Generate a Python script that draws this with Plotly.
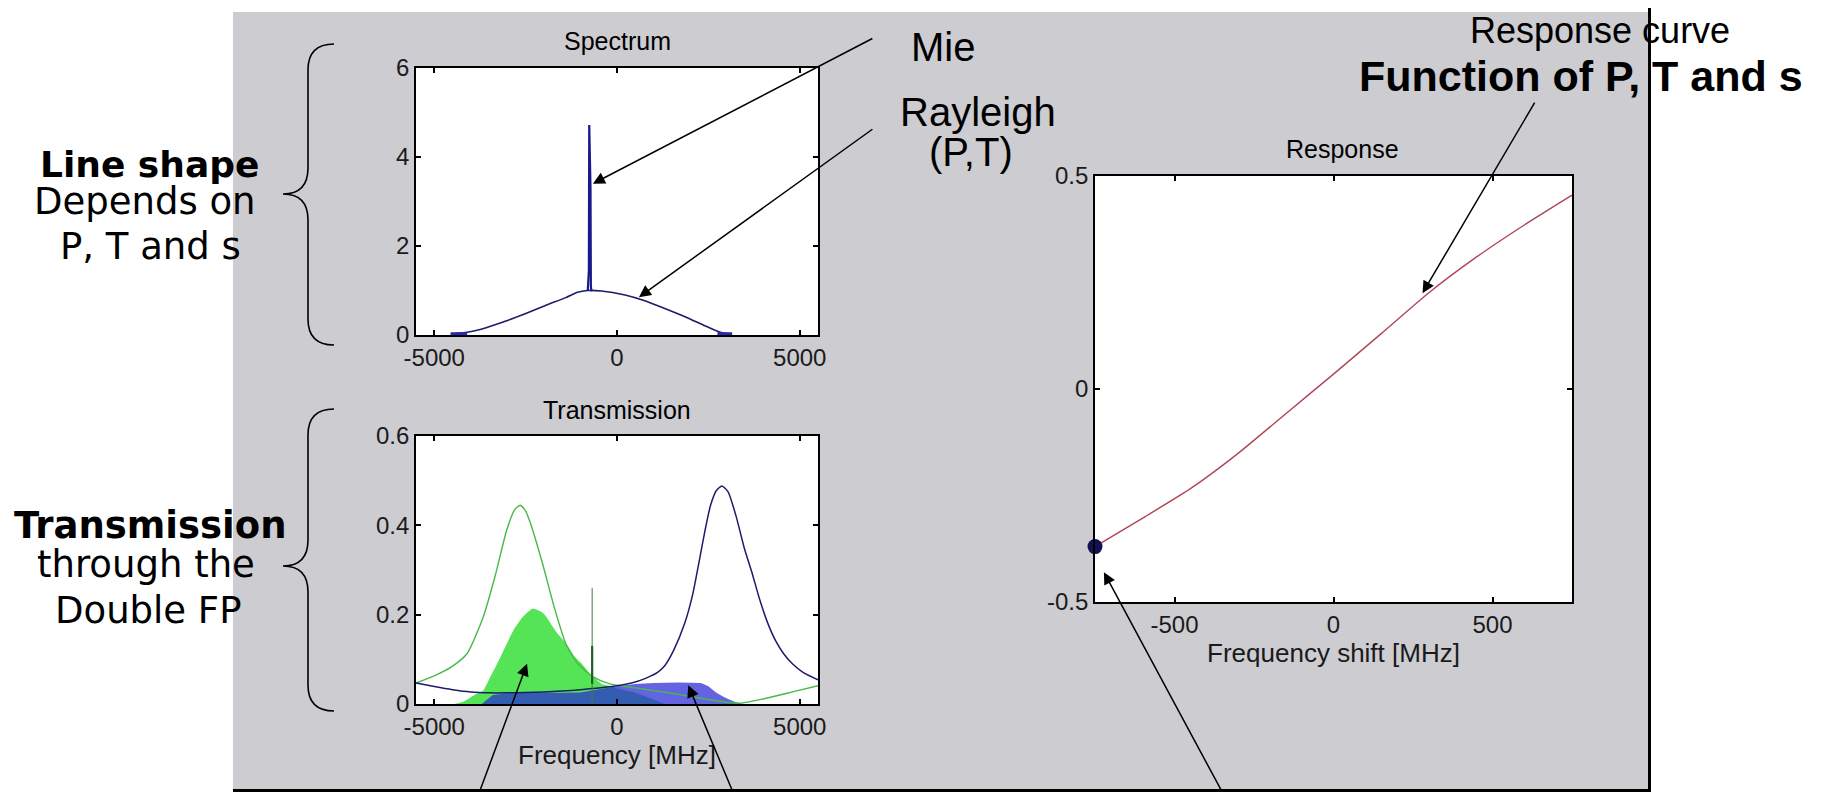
import plotly.graph_objects as go

W, H = 1823, 792
OFF = 8  # page body margin: figure is drawn 8px right/down inside the window

# ---------------- data ----------------
# Spectrum panel
ray_x = [-4550, -4100, -3560, -3020, -2480, -1940, -1400, -1080, -810, -430, 220, 760, 1290, 1830, 2370, 2700, 2910, 3150]
ray_y = [0.02, 0.06, 0.17, 0.32, 0.49, 0.67, 0.84, 0.96, 1.0, 0.99, 0.90, 0.77, 0.60, 0.42, 0.22, 0.10, 0.04, 0.02]
tailL_x = [-4550, -4100]
tailL_y = [0.02, 0.03]
tailR_x = [2750, 3150]
tailR_y = [0.03, 0.02]
mie_x = [-800, -780, -770, -760, -745, -735, -725, -715, -700]
mie_y = [0.99, 1.45, 1.45, 4.72, 3.85, 3.8, 3.3, 1.1, 0.98]

# Transmission panel
green_line_x = [-5500, -5000, -4530, -4100, -3660, -3340, -3015, -2800, -2650, -2500, -2370, -2040, -1720, -1400,
                -1070, -640, -200, 500, 1000, 1500, 2000, 2500, 3000, 3400, 3800, 4200, 4600, 5000, 5500]
green_line_y = [0.047, 0.063, 0.083, 0.113, 0.195, 0.285, 0.39, 0.435, 0.445, 0.432, 0.405, 0.315, 0.2175, 0.135,
                0.09, 0.06, 0.045, 0.036, 0.03, 0.024, 0.017, 0.01, 0.004, 0.002, 0.008, 0.015, 0.023, 0.031, 0.041]
navy_line_x = [-5500, -5000, -4500, -4000, -3500, -3000, -2500, -2000, -1500, -1000, -500, 0, 400, 800, 1100, 1300,
               1550, 1850, 2070, 2250, 2400, 2560, 2720, 2870, 3040, 3260, 3480, 3690, 3900, 4130, 4350, 4560, 4800,
               5100, 5500]
navy_line_y = [0.047, 0.039, 0.032, 0.027, 0.025, 0.025, 0.026, 0.027, 0.029, 0.032, 0.036, 0.041, 0.047, 0.058,
               0.07, 0.085, 0.12, 0.18, 0.245, 0.32, 0.385, 0.445, 0.478, 0.488, 0.475, 0.42, 0.35, 0.295, 0.235,
               0.18, 0.14, 0.1125, 0.09, 0.07, 0.054]
green_fill_x = [-4450, -4200, -3900, -3660, -3500, -3250, -3015, -2800, -2580, -2310, -2040, -1930, -1650, -1390,
                -1150, -960, -740, -420, -200, 0, 500, 1000, 1300]
green_fill_y = [0.0, 0.005, 0.02, 0.03, 0.055, 0.095, 0.135, 0.17, 0.195, 0.214, 0.205, 0.195, 0.16, 0.135,
                0.105, 0.09, 0.0675, 0.045, 0.041, 0.035, 0.025, 0.01, 0.0]
blue_fill_x = [-3700, -3400, -3000, -2500, -2000, -1500, -1000, -500, 0, 500, 1000, 1700, 2300, 2500, 2710, 2900,
               3040, 3250, 3470]
blue_fill_y = [0.0, 0.02, 0.024, 0.025, 0.025, 0.025, 0.026, 0.033, 0.04, 0.045, 0.047, 0.048, 0.047, 0.04,
               0.026, 0.017, 0.011, 0.004, 0.0]
spike_x = [-680, -680]
spike_y = [0.0, 0.26]
spike_thick_y = [0.045, 0.13]

# Response panel
resp_x = [-750, -600, -450, -300, -150, 0, 150, 300, 450, 600, 750]
resp_y = [-0.37, -0.303, -0.234, -0.151, -0.058, 0.035, 0.13, 0.226, 0.31, 0.385, 0.455]
op_x = [-750]
op_y = [-0.37]

spec_xticks = [-5000, 0, 5000]
spec_xticklabels = ["-5000", "0", "5000"]
spec_yticks = [0, 2, 4, 6]
trans_yticks = [0, 0.2, 0.4, 0.6]
trans_yticklabels = ["0", "0.2", "0.4", "0.6"]
resp_xticks = [-500, 0, 500]
resp_xticklabels = ["-500", "0", "500"]
resp_yticks = [-0.5, 0, 0.5]
resp_yticklabels = ["-0.5", "0", "0.5"]

# ---------------- styling helpers ----------------
SANS = "Liberation Sans, Arial, sans-serif"
VERD = "DejaVu Sans, Verdana, sans-serif"
NAVY = "rgb(28,28,105)"


def px(x):
    return (x - OFF) / W


def py(y):
    return 1 - (y - OFF) / H


fig = go.Figure()

# Spectrum
fig.add_trace(go.Scatter(x=ray_x, y=ray_y, mode="lines", line=dict(color=NAVY, width=1.6, shape="spline", smoothing=0.5),
                         xaxis="x", yaxis="y"))
fig.add_trace(go.Scatter(x=tailL_x, y=tailL_y, mode="lines", line=dict(color="rgb(40,40,170)", width=3.5), xaxis="x", yaxis="y"))
fig.add_trace(go.Scatter(x=tailR_x, y=tailR_y, mode="lines", line=dict(color="rgb(40,40,170)", width=3.5), xaxis="x", yaxis="y"))
fig.add_trace(go.Scatter(x=mie_x, y=mie_y, mode="lines", line=dict(color="rgb(25,25,140)", width=2.2), xaxis="x", yaxis="y"))

# Transmission
fig.add_trace(go.Scatter(x=green_fill_x, y=green_fill_y, mode="lines", fill="tozeroy",
                         fillcolor="rgb(85,228,85)", line=dict(color="rgba(85,228,85,0)", width=0, shape="spline", smoothing=0.4),
                         xaxis="x2", yaxis="y2"))
fig.add_trace(go.Scatter(x=blue_fill_x, y=blue_fill_y, mode="lines", fill="tozeroy",
                         fillcolor="rgba(40,40,215,0.72)", line=dict(color="rgba(0,0,0,0)", width=0),
                         xaxis="x2", yaxis="y2"))
fig.add_trace(go.Scatter(x=green_line_x, y=green_line_y, mode="lines",
                         line=dict(color="rgb(70,185,70)", width=1.4, shape="spline", smoothing=0.6),
                         xaxis="x2", yaxis="y2"))
fig.add_trace(go.Scatter(x=navy_line_x, y=navy_line_y, mode="lines",
                         line=dict(color=NAVY, width=1.5, shape="spline", smoothing=0.6),
                         xaxis="x2", yaxis="y2"))
fig.add_trace(go.Scatter(x=spike_x, y=spike_y, mode="lines", line=dict(color="rgb(70,120,70)", width=1),
                         xaxis="x2", yaxis="y2"))
fig.add_trace(go.Scatter(x=spike_x, y=spike_thick_y, mode="lines", line=dict(color="rgb(30,95,40)", width=2.2),
                         xaxis="x2", yaxis="y2"))

# Response
fig.add_trace(go.Scatter(x=resp_x, y=resp_y, mode="lines",
                         line=dict(color="rgb(175,70,85)", width=1.4, shape="spline", smoothing=0.6),
                         xaxis="x3", yaxis="y3"))
fig.add_trace(go.Scatter(x=op_x, y=op_y, mode="markers", cliponaxis=False,
                         marker=dict(color="rgb(18,18,80)", size=15, line=dict(width=0)),
                         xaxis="x3", yaxis="y3"))

# ---------------- axes ----------------
axis_common = dict(showline=True, linecolor="black", linewidth=1.6, mirror="ticks", ticks="inside",
                   ticklen=5, tickwidth=1.5, tickcolor="black", showgrid=False, zeroline=False,
                   automargin=False, tickfont=dict(family=SANS, size=24, color="#1a1a1a"), fixedrange=True)

spec_dom_x = [px(416), px(818)]
spec_dom_y = [py(335), py(68)]
trans_dom_y = [py(704), py(436)]
resp_dom_x = [px(1095), px(1572)]
resp_dom_y = [py(602), py(176)]

title_font = dict(family=SANS, size=26, color="#1a1a1a")

fig.update_layout(
    xaxis=dict(domain=spec_dom_x, anchor="y", range=[-5500, 5500], tickvals=spec_xticks,
               ticktext=spec_xticklabels, **axis_common),
    yaxis=dict(domain=spec_dom_y, anchor="x", range=[0, 6], tickvals=spec_yticks, **axis_common),
    xaxis2=dict(domain=spec_dom_x, anchor="y2", range=[-5500, 5500], tickvals=spec_xticks,
                ticktext=spec_xticklabels,
                title=dict(text="Frequency [MHz]", font=title_font, standoff=6), **axis_common),
    yaxis2=dict(domain=trans_dom_y, anchor="x2", range=[0, 0.6], tickvals=trans_yticks,
                ticktext=trans_yticklabels, **axis_common),
    xaxis3=dict(domain=resp_dom_x, anchor="y3", range=[-750, 750], tickvals=resp_xticks,
                ticktext=resp_xticklabels,
                title=dict(text="Frequency shift [MHz]", font=title_font, standoff=6), **axis_common),
    yaxis3=dict(domain=resp_dom_y, anchor="x3", range=[-0.5, 0.5], tickvals=resp_yticks,
                ticktext=resp_yticklabels, **axis_common),
)

# ---------------- shapes ----------------
shapes = []
shapes.append(dict(type="rect", xref="paper", yref="paper", x0=px(233), x1=px(1649), y0=py(791), y1=py(12),
                   fillcolor="rgb(204,204,209)", line=dict(width=0), layer="below"))
for xr, yr in (("x", "y"), ("x2", "y2"), ("x3", "y3")):
    shapes.append(dict(type="rect", xref=xr + " domain", yref=yr + " domain", x0=0, x1=1, y0=0, y1=1,
                       fillcolor="white", line=dict(width=0), layer="below"))
shapes.append(dict(type="line", xref="paper", yref="paper", x0=px(1649.5), x1=px(1649.5), y0=py(792), y1=1,
                   line=dict(color="black", width=3)))
shapes.append(dict(type="line", xref="paper", yref="paper", x0=px(233), x1=px(1651), y0=py(790.5), y1=py(790.5),
                   line=dict(color="black", width=3)))


def brace_path(xe, xs, xt, y0, ym, y1, r=26):
    pts = [("M", [(xe, y0)]),
           ("Q", [(xs, y0), (xs, y0 + r)]),
           ("L", [(xs, ym - r)]),
           ("Q", [(xs, ym), (xt, ym)]),
           ("Q", [(xs, ym), (xs, ym + r)]),
           ("L", [(xs, y1 - r)]),
           ("Q", [(xs, y1), (xe, y1)])]
    s = ""
    for cmd, ps in pts:
        s += cmd + " " + " ".join(f"{px(a):.5f},{py(b):.5f}" for a, b in ps) + " "
    return s.strip()


shapes.append(dict(type="path", xref="paper", yref="paper", path=brace_path(334, 308, 283, 44, 194, 345),
                   line=dict(color="black", width=1.6)))
shapes.append(dict(type="path", xref="paper", yref="paper", path=brace_path(334, 308, 283, 409, 566, 711),
                   line=dict(color="black", width=1.6)))
fig.update_layout(shapes=shapes)

# ---------------- annotations ----------------
ann = []


def text(t, cx, cy, size, family, bold=False, xanchor="center"):
    if bold:
        t = "<b>" + t + "</b>"
    ann.append(dict(text=t, x=px(cx), y=py(cy), xref="paper", yref="paper", showarrow=False,
                    xanchor=xanchor, yanchor="middle", font=dict(family=family, size=size, color="black")))


# subplot titles
text("Spectrum", 617, 41, 25, SANS)
text("Transmission", 617, 410, 25, SANS)
text("Response", 1342, 149, 25, SANS)

# left explanations
text("Line shape", 149, 164, 36, VERD, bold=True)
text("Depends on", 145, 202, 37, VERD)
text("P, T and s", 150, 246, 37, VERD)
text("Transmission", 150, 525, 37, VERD, bold=True)
text("through the", 146, 564, 37, VERD)
text("Double FP", 148, 610, 37, VERD)

# right labels
text("Mie", 909, 47, 40, SANS, xanchor="left")
text("Rayleigh", 978, 112, 40, SANS)
text("(P,T)", 971, 152, 40, SANS)
text("Response curve", 1600, 30, 36, SANS)
text("Function of P, T and s", 1581, 76, 43, SANS, bold=True)


def arrow(xref, yref, x, y, ax, ay):
    ann.append(dict(text="", x=x, y=y, xref=xref, yref=yref, showarrow=True, ax=ax, ay=ay,
                    axref="pixel", ayref="pixel", arrowhead=2, arrowsize=1.6, arrowwidth=1.5,
                    arrowcolor="black", standoff=0))


arrow("x", "y", -660, 3.4, 281, -146)
arrow("x", "y", 600, 0.85, 235, -169)
arrow("x3", "y3", 280, 0.225, 113, -192)
arrow("x3", "y3", -722, -0.43, 120, 223)
arrow("x2", "y2", -2462, 0.09, -49, 132)
arrow("x2", "y2", 1950, 0.042, 46, 110)

fig.update_layout(annotations=ann)

fig.update_layout(width=W, height=H, autosize=False, margin=dict(l=0, r=0, t=0, b=0, autoexpand=False),
                  paper_bgcolor="white", plot_bgcolor="white", showlegend=False)

fig.write_html("out.html")
